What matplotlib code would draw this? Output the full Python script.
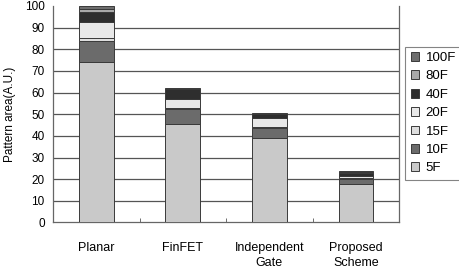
import numpy as np
import matplotlib
matplotlib.use("Agg")
import matplotlib.pyplot as plt

plt.rcParams["font.family"] = ["Liberation Sans", "DejaVu Sans"]

categories = ["Planar", "FinFET", "Independent\nGate", "Proposed\nScheme"]
series = ["5F", "10F", "15F", "20F", "40F", "80F", "100F"]
values = {
    "5F":   [74.0, 45.5, 39.2, 17.6],
    "10F":  [10.0, 7.0, 4.5, 2.6],
    "15F":  [1.0, 0.5, 0.5, 0.5],
    "20F":  [7.5, 4.0, 4.0, 1.0],
    "40F":  [4.5, 4.5, 1.7, 1.3],
    "80F":  [1.5, 0.3, 0.3, 0.3],
    "100F": [1.5, 0.3, 0.3, 0.3],
}
colors = {
    "5F": "#c9c9c9",
    "10F": "#6b6b6b",
    "15F": "#dedede",
    "20F": "#e8e8e8",
    "40F": "#2e2e2e",
    "80F": "#a9a9a9",
    "100F": "#6e6e6e",
}

fig = plt.figure(figsize=(4.59, 2.72), dpi=100)
ax = fig.add_axes([0.1155, 0.182, 0.754, 0.796])

x = np.arange(len(categories))
bottom = np.zeros(len(categories))
handles = {}
for s in series:
    v = np.array(values[s])
    handles[s] = ax.bar(x, v, 0.4, bottom=bottom, color=colors[s],
                        edgecolor="#3a3a3a", linewidth=0.7, zorder=3)
    bottom += v

ax.set_xlim(-0.5, len(categories) - 0.5)
ax.set_ylim(0, 100)
ax.set_yticks(np.arange(0, 101, 10))
for yv in range(10, 100, 10):
    ax.axhline(yv, color="#555555", lw=0.9, zorder=1)

ax.set_xticks(x)
ax.set_xticklabels(categories, fontsize=9, linespacing=1.3)
ax.set_xticks(np.arange(0.5, len(categories) - 0.5, 1), minor=True)
ax.tick_params(axis="x", which="major", length=0, pad=14)
ax.tick_params(axis="x", which="minor", length=3, direction="in", color="#555555")
ax.tick_params(axis="y", labelsize=8.5, length=0, pad=6)
ax.set_ylabel("Pattern area(A.U.)", fontsize=8.5, labelpad=6)

for side in ["left", "bottom", "right"]:
    ax.spines[side].set_color("#666666")
    ax.spines[side].set_linewidth(0.9)
ax.spines["top"].set_visible(False)

order = ["100F", "80F", "40F", "20F", "15F", "10F", "5F"]
leg = fig.legend([handles[s] for s in order], order, loc="upper left",
                 bbox_to_anchor=(0.883, 0.828), fontsize=9.5, frameon=True,
                 handlelength=0.65, handleheight=0.65, handletextpad=0.5,
                 labelspacing=0.48, borderpad=0.4, borderaxespad=0,
                 fancybox=False)
leg.get_frame().set_edgecolor("#666666")
leg.get_frame().set_linewidth(0.8)

fig.savefig("out.png", dpi=100)
